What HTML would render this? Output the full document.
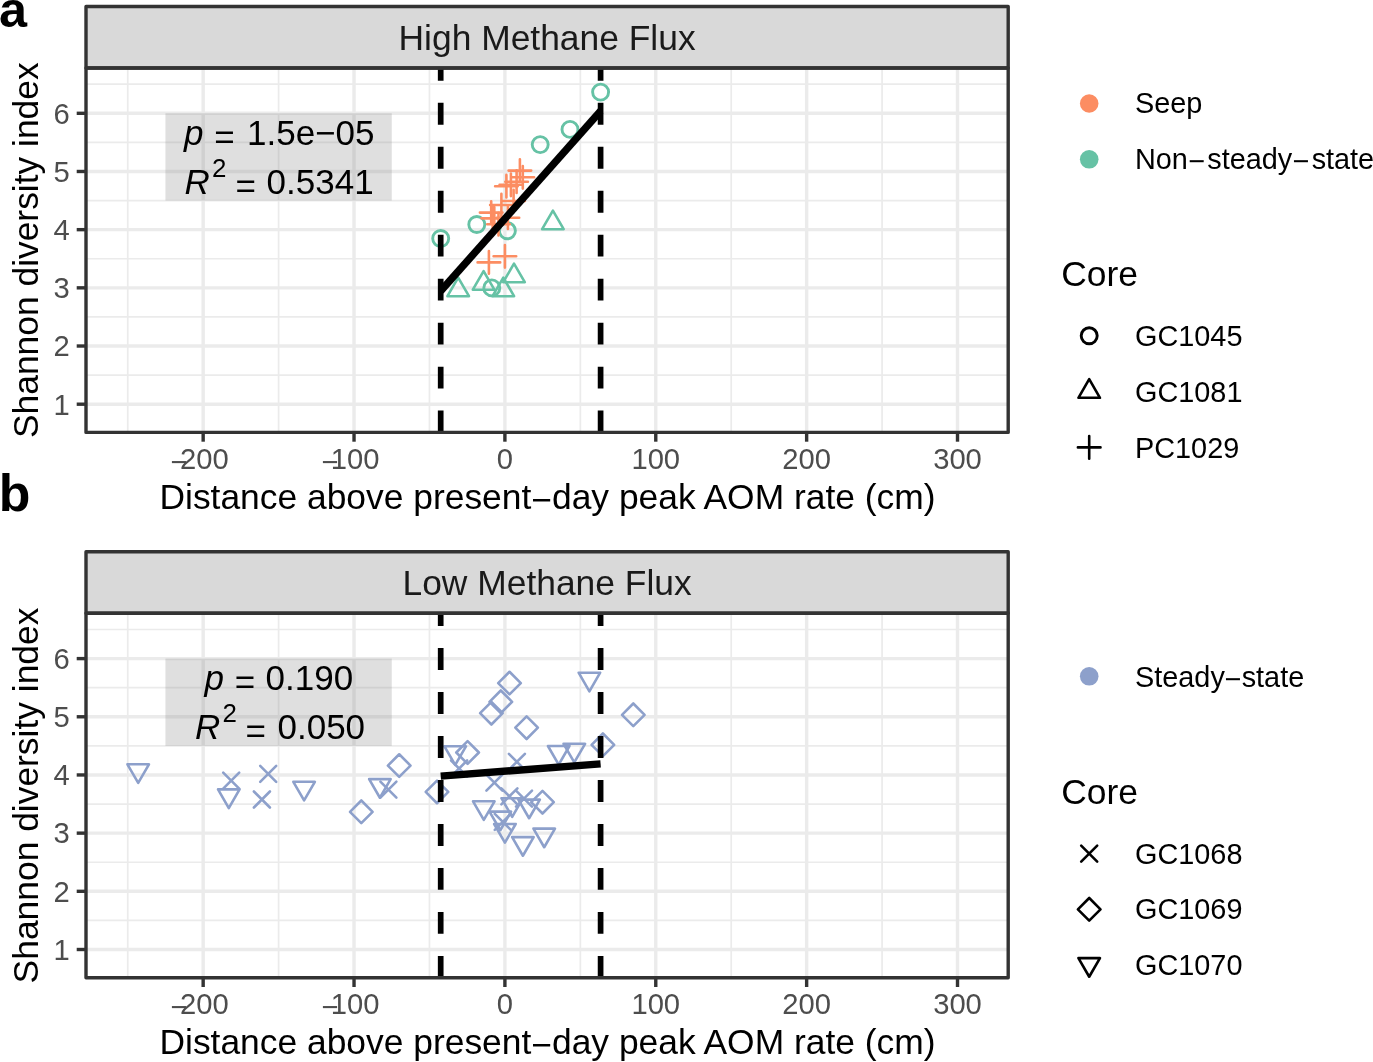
<!DOCTYPE html>
<html lang="en">
<head>
<meta charset="utf-8">
<title>Shannon diversity vs distance above peak AOM rate</title>
<style>
html,body{margin:0;padding:0;background:#fff;}
body{width:1373px;height:1062px;overflow:hidden;font-family:"Liberation Sans",Arial,Helvetica,sans-serif;}
svg{display:block;will-change:transform;}
</style>
</head>
<body>
<svg width="1373" height="1062" viewBox="0 0 1373 1062" font-family="'Liberation Sans', Arial, Helvetica, sans-serif">
<defs>
<clipPath id="clip0"><rect x="86" y="68" width="922.2" height="364.4"/></clipPath>
<clipPath id="clip1"><rect x="86" y="613.3" width="922.2" height="364.4"/></clipPath>
</defs>
<rect width="1373" height="1062" fill="#fff"/>
<rect x="86" y="68" width="922.2" height="364.4" fill="#fff"/>
<g clip-path="url(#clip0)">
<g stroke="#EBEBEB" stroke-width="1.7">
<path d="M127.73 68V432.4"/>
<path d="M278.6 68V432.4"/>
<path d="M429.46 68V432.4"/>
<path d="M580.34 68V432.4"/>
<path d="M731.2 68V432.4"/>
<path d="M882.07 68V432.4"/>
<path d="M86 375.11H1008.2"/>
<path d="M86 316.93H1008.2"/>
<path d="M86 258.75H1008.2"/>
<path d="M86 200.57H1008.2"/>
<path d="M86 142.39H1008.2"/>
<path d="M86 84.21H1008.2"/>
</g>
<g stroke="#EBEBEB" stroke-width="3.4">
<path d="M203.16 68V432.4"/>
<path d="M354.03 68V432.4"/>
<path d="M504.9 68V432.4"/>
<path d="M655.77 68V432.4"/>
<path d="M806.64 68V432.4"/>
<path d="M957.51 68V432.4"/>
<path d="M86 404.2H1008.2"/>
<path d="M86 346.02H1008.2"/>
<path d="M86 287.84H1008.2"/>
<path d="M86 229.66H1008.2"/>
<path d="M86 171.48H1008.2"/>
<path d="M86 113.3H1008.2"/>
</g>
<rect x="165.44" y="113.3" width="226.31" height="87.27" fill="#7F7F7F" fill-opacity="0.25"/>
<g fill="none" stroke-width="2.6" stroke-linecap="round" stroke-linejoin="round">
<circle cx="440.7" cy="238.5" r="8" stroke="#66C2A5" stroke-width="2.9"/>
<circle cx="476.8" cy="224.5" r="8" stroke="#66C2A5" stroke-width="2.9"/>
<circle cx="507.4" cy="230.8" r="8" stroke="#66C2A5" stroke-width="2.9"/>
<circle cx="491.8" cy="287.9" r="8" stroke="#66C2A5" stroke-width="2.9"/>
<circle cx="540.2" cy="144.6" r="8" stroke="#66C2A5" stroke-width="2.9"/>
<circle cx="570" cy="129.4" r="8" stroke="#66C2A5" stroke-width="2.9"/>
<circle cx="600.6" cy="92.1" r="8" stroke="#66C2A5" stroke-width="2.9"/>
<path d="M552.9 210.56L563.67 229.22L542.13 229.22Z" stroke="#66C2A5"/>
<path d="M514 263.56L524.77 282.22L503.23 282.22Z" stroke="#66C2A5"/>
<path d="M483.6 271.06L494.37 289.72L472.83 289.72Z" stroke="#66C2A5"/>
<path d="M458.2 277.56L468.97 296.22L447.43 296.22Z" stroke="#66C2A5"/>
<path d="M503.3 277.56L514.07 296.22L492.53 296.22Z" stroke="#66C2A5"/>
<path d="M508.59 170.6H531.21M519.9 159.29V181.91" stroke="#FC8D62"/>
<path d="M511.49 177.3H534.11M522.8 165.99V188.61" stroke="#FC8D62"/>
<path d="M505.29 181.7H527.91M516.6 170.39V193.01" stroke="#FC8D62"/>
<path d="M499.59 184.8H522.21M510.9 173.49V196.11" stroke="#FC8D62"/>
<path d="M495.09 186.2H517.71M506.4 174.89V197.51" stroke="#FC8D62"/>
<path d="M502.29 201H524.91M513.6 189.69V212.31" stroke="#FC8D62"/>
<path d="M490.09 205H512.71M501.4 193.69V216.31" stroke="#FC8D62"/>
<path d="M479.89 212.6H502.51M491.2 201.29V223.91" stroke="#FC8D62"/>
<path d="M481.39 218.3H504.01M492.7 206.99V229.61" stroke="#FC8D62"/>
<path d="M487.19 224.2H509.81M498.5 212.89V235.51" stroke="#FC8D62"/>
<path d="M496.59 217.7H519.21M507.9 206.39V229.01" stroke="#FC8D62"/>
<path d="M482.99 218.3H505.61M494.3 206.99V229.61" stroke="#FC8D62"/>
<path d="M493.59 256.3H516.21M504.9 244.99V267.61" stroke="#FC8D62"/>
<path d="M477.59 262.4H500.21M488.9 251.09V273.71" stroke="#FC8D62"/>
</g>
<path d="M440.7 291.04L600.6 110.97" stroke="#000" stroke-width="7.4"/>
<path d="M440.7 432.5V68" stroke="#000" stroke-width="5.7" stroke-dasharray="21.9 22.07"/>
<path d="M600.6 432.5V68" stroke="#000" stroke-width="5.7" stroke-dasharray="21.9 22.07"/>
</g>
<g font-size="35" fill="#000"><text y="145.1"><tspan x="184.1" font-style="italic">p</tspan><tspan x="214.35" dy="3.6">=</tspan><tspan x="247" dy="-3.6">1.5e−05</tspan></text><text y="194.1"><tspan x="184.6" font-style="italic">R</tspan><tspan font-size="25.9" dx="2.2" dy="-17.2">2</tspan><tspan x="235.6" dy="20.8">=</tspan><tspan x="266.6" dy="-3.6">0.5341</tspan></text></g>
<rect x="86" y="6.5" width="922.2" height="61.5" fill="#D9D9D9" stroke="#333" stroke-width="3.4" stroke-linejoin="round"/>
<text x="547.1" y="49.6" font-size="35.4" fill="#1A1A1A" text-anchor="middle">High Methane Flux</text>
<rect x="86" y="68" width="922.2" height="364.4" fill="none" stroke="#333" stroke-width="3.4" stroke-linejoin="round"/>
<g stroke="#333" stroke-width="3.4">
<path d="M203.16 432.4v9.3"/>
<path d="M354.03 432.4v9.3"/>
<path d="M504.9 432.4v9.3"/>
<path d="M655.77 432.4v9.3"/>
<path d="M806.64 432.4v9.3"/>
<path d="M957.51 432.4v9.3"/>
<path d="M86 404.2h-9.3"/>
<path d="M86 346.02h-9.3"/>
<path d="M86 287.84h-9.3"/>
<path d="M86 229.66h-9.3"/>
<path d="M86 171.48h-9.3"/>
<path d="M86 113.3h-9.3"/>
</g>
<g font-size="29.2" fill="#4D4D4D">
<text x="69.8" y="414.5" text-anchor="end">1</text>
<text x="69.8" y="356.32" text-anchor="end">2</text>
<text x="69.8" y="298.14" text-anchor="end">3</text>
<text x="69.8" y="239.96" text-anchor="end">4</text>
<text x="69.8" y="181.78" text-anchor="end">5</text>
<text x="69.8" y="123.6" text-anchor="end">6</text>
<text x="170.28" y="469.1"><tspan dy="2.5">−</tspan><tspan dx="-7.33" dy="-2.5">200</tspan></text>
<text x="321.15" y="469.1"><tspan dy="2.5">−</tspan><tspan dx="-7.33" dy="-2.5">100</tspan></text>
<text x="504.9" y="469.1" text-anchor="middle">0</text>
<text x="655.77" y="469.1" text-anchor="middle">100</text>
<text x="806.64" y="469.1" text-anchor="middle">200</text>
<text x="957.51" y="469.1" text-anchor="middle">300</text>
</g>
<text x="547.5" y="509" font-size="35.4" fill="#000" text-anchor="middle">Distance above present<tspan dy="2.6">−</tspan><tspan dy="-2.6">day peak AOM rate (cm)</tspan></text>
<text transform="translate(38.2 250.2) rotate(-90)" font-size="35.4" fill="#000" text-anchor="middle">Shannon diversity index</text>
<rect x="86" y="613.3" width="922.2" height="364.4" fill="#fff"/>
<g clip-path="url(#clip1)">
<g stroke="#EBEBEB" stroke-width="1.7">
<path d="M127.73 613.3V977.7"/>
<path d="M278.6 613.3V977.7"/>
<path d="M429.46 613.3V977.7"/>
<path d="M580.34 613.3V977.7"/>
<path d="M731.2 613.3V977.7"/>
<path d="M882.07 613.3V977.7"/>
<path d="M86 920.41H1008.2"/>
<path d="M86 862.23H1008.2"/>
<path d="M86 804.05H1008.2"/>
<path d="M86 745.87H1008.2"/>
<path d="M86 687.69H1008.2"/>
<path d="M86 629.51H1008.2"/>
</g>
<g stroke="#EBEBEB" stroke-width="3.4">
<path d="M203.16 613.3V977.7"/>
<path d="M354.03 613.3V977.7"/>
<path d="M504.9 613.3V977.7"/>
<path d="M655.77 613.3V977.7"/>
<path d="M806.64 613.3V977.7"/>
<path d="M957.51 613.3V977.7"/>
<path d="M86 949.5H1008.2"/>
<path d="M86 891.32H1008.2"/>
<path d="M86 833.14H1008.2"/>
<path d="M86 774.96H1008.2"/>
<path d="M86 716.78H1008.2"/>
<path d="M86 658.6H1008.2"/>
</g>
<rect x="165.44" y="658.6" width="226.31" height="87.27" fill="#7F7F7F" fill-opacity="0.25"/>
<g fill="none" stroke-width="2.6" stroke-linecap="round" stroke-linejoin="round">
<path d="M498.19 683.1L509.5 671.79L520.81 683.1L509.5 694.41Z" stroke="#8DA0CB"/>
<path d="M489.49 701.8L500.8 690.49L512.11 701.8L500.8 713.11Z" stroke="#8DA0CB"/>
<path d="M480.09 713.2L491.4 701.89L502.71 713.2L491.4 724.51Z" stroke="#8DA0CB"/>
<path d="M515.29 727.7L526.6 716.39L537.91 727.7L526.6 739.01Z" stroke="#8DA0CB"/>
<path d="M621.99 714.8L633.3 703.49L644.61 714.8L633.3 726.11Z" stroke="#8DA0CB"/>
<path d="M591.59 744.8L602.9 733.49L614.21 744.8L602.9 756.11Z" stroke="#8DA0CB"/>
<path d="M456.29 752.5L467.6 741.19L478.91 752.5L467.6 763.81Z" stroke="#8DA0CB"/>
<path d="M425.69 791.9L437 780.59L448.31 791.9L437 803.21Z" stroke="#8DA0CB"/>
<path d="M531.19 802.2L542.5 790.89L553.81 802.2L542.5 813.51Z" stroke="#8DA0CB"/>
<path d="M387.89 765.6L399.2 754.29L410.51 765.6L399.2 776.91Z" stroke="#8DA0CB"/>
<path d="M349.99 811.8L361.3 800.49L372.61 811.8L361.3 823.11Z" stroke="#8DA0CB"/>
<path d="M138.2 782.94L148.97 764.28L127.43 764.28Z" stroke="#8DA0CB"/>
<path d="M228.8 808.04L239.57 789.38L218.03 789.38Z" stroke="#8DA0CB"/>
<path d="M304.1 800.44L314.87 781.78L293.33 781.78Z" stroke="#8DA0CB"/>
<path d="M379.9 797.74L390.67 779.08L369.13 779.08Z" stroke="#8DA0CB"/>
<path d="M589.4 691.34L600.17 672.68L578.63 672.68Z" stroke="#8DA0CB"/>
<path d="M455.2 764.94L465.97 746.28L444.43 746.28Z" stroke="#8DA0CB"/>
<path d="M558.7 764.64L569.47 745.98L547.93 745.98Z" stroke="#8DA0CB"/>
<path d="M574.3 762.44L585.07 743.78L563.53 743.78Z" stroke="#8DA0CB"/>
<path d="M483.8 819.94L494.57 801.28L473.03 801.28Z" stroke="#8DA0CB"/>
<path d="M512.2 816.84L522.97 798.18L501.43 798.18Z" stroke="#8DA0CB"/>
<path d="M529.1 818.24L539.87 799.58L518.33 799.58Z" stroke="#8DA0CB"/>
<path d="M500.3 830.24L511.07 811.58L489.53 811.58Z" stroke="#8DA0CB"/>
<path d="M504.9 842.64L515.67 823.98L494.13 823.98Z" stroke="#8DA0CB"/>
<path d="M522.9 855.74L533.67 837.08L512.13 837.08Z" stroke="#8DA0CB"/>
<path d="M544.2 847.24L554.97 828.58L533.43 828.58Z" stroke="#8DA0CB"/>
<path d="M223.2 772.7L239.2 788.7M223.2 788.7L239.2 772.7" stroke="#8DA0CB"/>
<path d="M260.2 765.9L276.2 781.9M260.2 781.9L276.2 765.9" stroke="#8DA0CB"/>
<path d="M253.9 791.5L269.9 807.5M253.9 807.5L269.9 791.5" stroke="#8DA0CB"/>
<path d="M380.4 781.6L396.4 797.6M380.4 797.6L396.4 781.6" stroke="#8DA0CB"/>
<path d="M508.9 753.8L524.9 769.8M508.9 769.8L524.9 753.8" stroke="#8DA0CB"/>
<path d="M486.4 774.6L502.4 790.6M486.4 790.6L502.4 774.6" stroke="#8DA0CB"/>
<path d="M451.1 760.5L467.1 776.5M451.1 776.5L467.1 760.5" stroke="#8DA0CB"/>
<path d="M501.4 788.3L517.4 804.3M501.4 804.3L517.4 788.3" stroke="#8DA0CB"/>
<path d="M516 790.6L532 806.6M516 806.6L532 790.6" stroke="#8DA0CB"/>
<path d="M494.8 813.9L510.8 829.9M494.8 829.9L510.8 813.9" stroke="#8DA0CB"/>
</g>
<path d="M440.7 776.12L600.6 763.91" stroke="#000" stroke-width="7.4"/>
<path d="M440.7 977.8V613.3" stroke="#000" stroke-width="5.7" stroke-dasharray="21.9 22.07"/>
<path d="M600.6 977.8V613.3" stroke="#000" stroke-width="5.7" stroke-dasharray="21.9 22.07"/>
</g>
<g font-size="35" fill="#000"><text y="690.4"><tspan x="204.45" font-style="italic">p</tspan><tspan x="234.75" dy="3.6">=</tspan><tspan x="265.6" dy="-3.6">0.190</tspan></text><text y="739.4"><tspan x="194.9" font-style="italic">R</tspan><tspan font-size="25.9" dx="2.2" dy="-17.2">2</tspan><tspan x="245.5" dy="20.8">=</tspan><tspan x="277.5" dy="-3.6">0.050</tspan></text></g>
<rect x="86" y="551.8" width="922.2" height="61.5" fill="#D9D9D9" stroke="#333" stroke-width="3.4" stroke-linejoin="round"/>
<text x="547.1" y="594.9" font-size="35.4" fill="#1A1A1A" text-anchor="middle">Low Methane Flux</text>
<rect x="86" y="613.3" width="922.2" height="364.4" fill="none" stroke="#333" stroke-width="3.4" stroke-linejoin="round"/>
<g stroke="#333" stroke-width="3.4">
<path d="M203.16 977.7v9.3"/>
<path d="M354.03 977.7v9.3"/>
<path d="M504.9 977.7v9.3"/>
<path d="M655.77 977.7v9.3"/>
<path d="M806.64 977.7v9.3"/>
<path d="M957.51 977.7v9.3"/>
<path d="M86 949.5h-9.3"/>
<path d="M86 891.32h-9.3"/>
<path d="M86 833.14h-9.3"/>
<path d="M86 774.96h-9.3"/>
<path d="M86 716.78h-9.3"/>
<path d="M86 658.6h-9.3"/>
</g>
<g font-size="29.2" fill="#4D4D4D">
<text x="69.8" y="959.8" text-anchor="end">1</text>
<text x="69.8" y="901.62" text-anchor="end">2</text>
<text x="69.8" y="843.44" text-anchor="end">3</text>
<text x="69.8" y="785.26" text-anchor="end">4</text>
<text x="69.8" y="727.08" text-anchor="end">5</text>
<text x="69.8" y="668.9" text-anchor="end">6</text>
<text x="170.28" y="1014.4"><tspan dy="2.5">−</tspan><tspan dx="-7.33" dy="-2.5">200</tspan></text>
<text x="321.15" y="1014.4"><tspan dy="2.5">−</tspan><tspan dx="-7.33" dy="-2.5">100</tspan></text>
<text x="504.9" y="1014.4" text-anchor="middle">0</text>
<text x="655.77" y="1014.4" text-anchor="middle">100</text>
<text x="806.64" y="1014.4" text-anchor="middle">200</text>
<text x="957.51" y="1014.4" text-anchor="middle">300</text>
</g>
<text x="547.5" y="1054.3" font-size="35.4" fill="#000" text-anchor="middle">Distance above present<tspan dy="2.6">−</tspan><tspan dy="-2.6">day peak AOM rate (cm)</tspan></text>
<text transform="translate(38.2 795.5) rotate(-90)" font-size="35.4" fill="#000" text-anchor="middle">Shannon diversity index</text>
<g font-size="28.85" fill="#000">
<circle cx="1089.2" cy="103.5" r="9.3" fill="#FC8D62"/>
<text x="1135" y="113.4">Seep</text>
<circle cx="1089.2" cy="159.3" r="9.3" fill="#66C2A5"/>
<text x="1135" y="169.2">Non<tspan dx="0.6" dy="2.2">−</tspan><tspan dx="1.9" dy="-2.2">steady</tspan><tspan dx="0.6" dy="2.2">−</tspan><tspan dx="1.9" dy="-2.2">state</tspan></text>
</g>
<text x="1061.2" y="286.1" font-size="35.4" fill="#000">Core</text>
<g fill="none" stroke="#000" stroke-width="2.6" stroke-linecap="round" stroke-linejoin="round">
<circle cx="1089.2" cy="335.8" r="8" stroke="#000" stroke-width="2.9"/>
<path d="M1089.2 379.16L1099.97 397.82L1078.43 397.82Z" stroke="#000"/>
<path d="M1077.89 447.4H1100.51M1089.2 436.09V458.71" stroke="#000"/>
</g>
<g font-size="28.85" fill="#000">
<text x="1135" y="346.1">GC1045</text>
<text x="1135" y="401.9">GC1081</text>
<text x="1135" y="457.7">PC1029</text>
</g>
<g font-size="28.85" fill="#000">
<circle cx="1089.2" cy="676.3" r="9.3" fill="#8DA0CB"/>
<text x="1135" y="686.8">Steady<tspan dx="-0.1" dy="2.2">−</tspan><tspan dx="0.1" dy="-2.2">state</tspan></text>
</g>
<text x="1061.2" y="803.8" font-size="35.4" fill="#000">Core</text>
<g fill="none" stroke="#000" stroke-width="2.6" stroke-linecap="round" stroke-linejoin="round">
<path d="M1081.2 845.6L1097.2 861.6M1081.2 861.6L1097.2 845.6" stroke="#000"/>
<path d="M1077.89 909.3L1089.2 897.99L1100.51 909.3L1089.2 920.61Z" stroke="#000"/>
<path d="M1089.2 976.74L1099.97 958.08L1078.43 958.08Z" stroke="#000"/>
</g>
<g font-size="28.85" fill="#000">
<text x="1135" y="863.6">GC1068</text>
<text x="1135" y="919.3">GC1069</text>
<text x="1135" y="975">GC1070</text>
</g>
<text x="-0.9" y="26.5" font-size="50.4" font-weight="bold" fill="#000">a</text>
<text x="-1.2" y="511.0" font-size="51.8" font-weight="bold" fill="#000">b</text>
</svg>
</body>
</html>
